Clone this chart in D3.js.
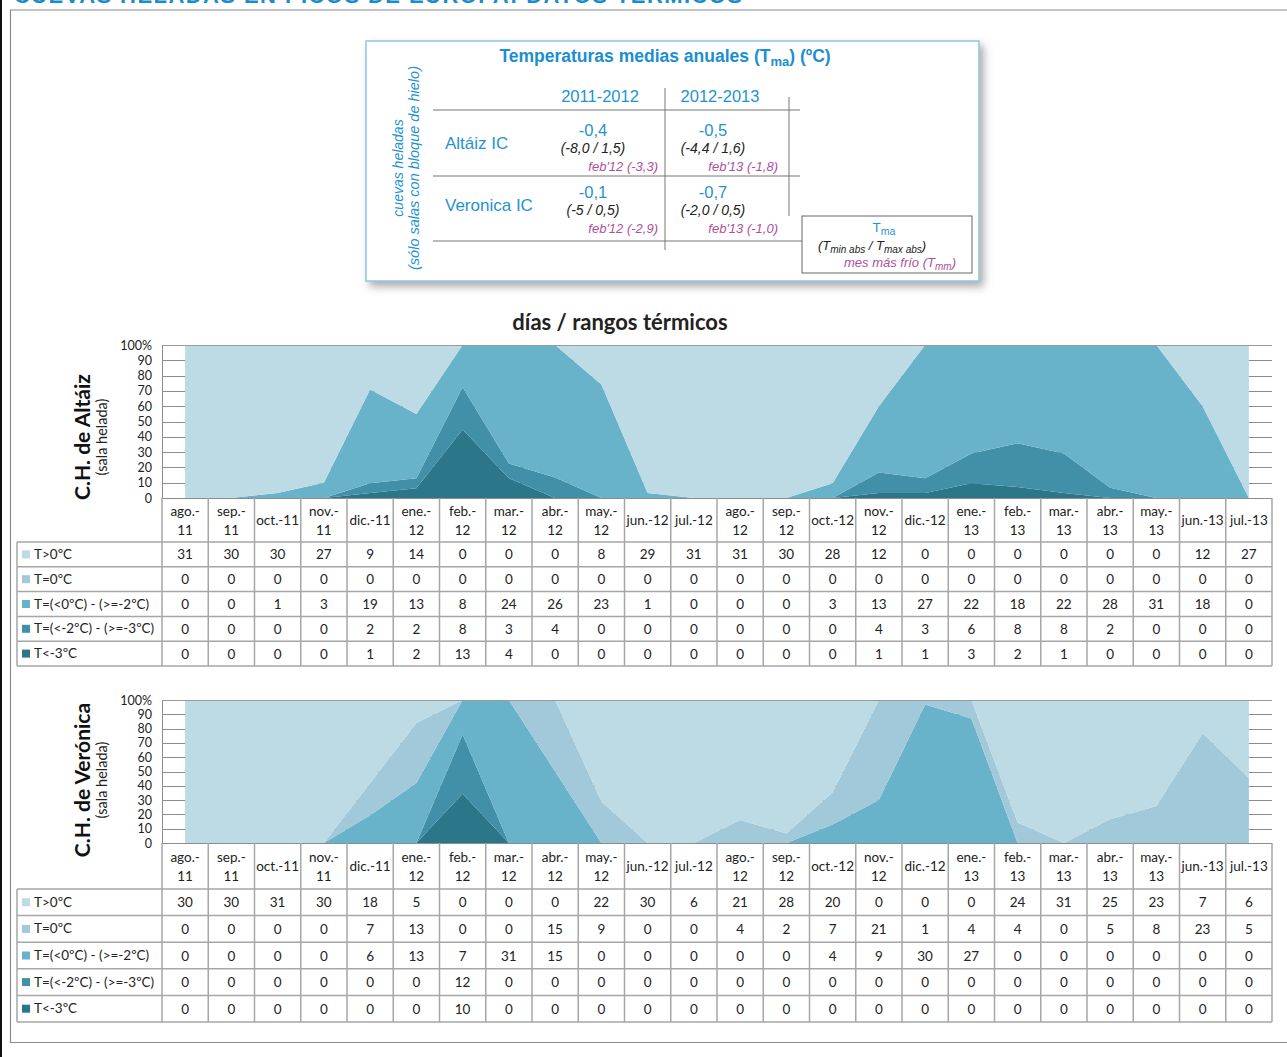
<!DOCTYPE html>
<html>
<head>
<meta charset="utf-8">
<script src="https://cdn.jsdelivr.net/npm/d3@7/dist/d3.min.js"></script>
<style>
  body{margin:0;background:#fff;}
  svg{display:block;font-family:Lato,"Open Sans",sans-serif;}
  .box text{font-family:"Liberation Sans",Arial,sans-serif;}
</style>
</head>
<body>
<div id="chart"></div>
<script>
// --- datos ---
var meses = ["ago.-\n11","sep.-\n11","oct.-11","nov.-\n11","dic.-11","ene.-\n12","feb.-\n12","mar.-\n12","abr.-\n12","may.-\n12","jun.-12","jul.-12",
             "ago.-\n12","sep.-\n12","oct.-12","nov.-\n12","dic.-12","ene.-\n13","feb.-\n13","mar.-\n13","abr.-\n13","may.-\n13","jun.-13","jul.-13"]
var rangos = ["T>0ºC","T=0ºC","T=(<0ºC) - (>=-2ºC)","T=(<-2ºC) - (>=-3ºC)","T<-3ºC"]
var colores = ["#bddbe5","#a1c9da","#69b3ca","#4190a8","#2c768a"]
var ticksY = ["0","10","20","30","40","50","60","70","80","90","100%"]

var altaizMas0   = [31,30,30,27,9,14,0,0,0,8,29,31,31,30,28,12,0,0,0,0,0,0,12,27]
var altaizIgual0 = [0,0,0,0,0,0,0,0,0,0,0,0,0,0,0,0,0,0,0,0,0,0,0,0]
var altaizMenos2 = [0,0,1,3,19,13,8,24,26,23,1,0,0,0,3,13,27,22,18,22,28,31,18,0]
var altaizMenos3 = [0,0,0,0,2,2,8,3,4,0,0,0,0,0,0,4,3,6,8,8,2,0,0,0]
var altaizBajo3  = [0,0,0,0,1,2,13,4,0,0,0,0,0,0,0,1,1,3,2,1,0,0,0,0]

var veroMas0   = [30,30,31,30,18,5,0,0,0,22,30,6,21,28,20,0,0,0,24,31,25,23,7,6]
var veroIgual0 = [0,0,0,0,7,13,0,0,15,9,0,0,4,2,7,21,1,4,4,0,5,8,23,5]
var veroMenos2 = [0,0,0,0,6,13,7,31,15,0,0,0,0,0,4,9,30,27,0,0,0,0,0,0]
var veroMenos3 = [0,0,0,0,0,0,12,0,0,0,0,0,0,0,0,0,0,0,0,0,0,0,0,0]
var veroBajo3  = [0,0,0,0,0,0,10,0,0,0,0,0,0,0,0,0,0,0,0,0,0,0,0,0]

var cuevas = ["Altáiz IC","Veronica IC"]
var periodos = ["2011-2012","2012-2013"]
var tmaVals = [["-0,4","-0,5"],["-0,1","-0,7"]]
var extremos = [["(-8,0 / 1,5)","(-4,4 / 1,6)"],["(-5 / 0,5)","(-2,0 / 0,5)"]]
var mesFrio = [["feb'12 (-3,3)","feb'13 (-1,8)"],["feb'12 (-2,9)","feb'13 (-1,0)"]]

var azul = "#1f93d2"
var morado = "#b0509c"

var svg = d3.select("#chart").append("svg").attr("width",1287).attr("height",1057)

var defs = svg.append("defs")
defs.append("filter").attr("id","sombra").attr("x","-5%").attr("y","-5%").attr("width","115%").attr("height","120%")
  .append("feDropShadow").attr("dx",4).attr("dy",5).attr("stdDeviation",4)
  .attr("flood-color","#666").attr("flood-opacity",0.55)

// marco y titulo (cortado arriba como en el original)
svg.append("rect").attr("x",0).attr("y",0).attr("width",2).attr("height",1057).attr("fill","#111")
svg.append("path").attr("d","M1300,10 H10.5 V1042.5 H1300").attr("fill","none").attr("stroke","#8a8a8a").attr("stroke-width",1.2)
svg.append("text").text("CUEVAS HELADAS EN PICOS DE EUROPA: DATOS TÉRMICOS")
  .attr("x",14).attr("y",3).attr("font-family","Liberation Sans, Arial").attr("font-weight","bold")
  .attr("font-size",22).attr("fill","#1a8ccc").attr("textLength",728)

// --- caja de temperaturas ---
var box = svg.append("g").attr("class","box")
box.append("rect").attr("x",366).attr("y",41).attr("width",613).attr("height",240)
  .attr("fill","white").attr("stroke","#8cc6e4").attr("stroke-width",1.5).attr("filter","url(#sombra)")

var bt = box.append("text").attr("x",665).attr("y",62).attr("text-anchor","middle")
  .attr("font-weight","bold").attr("font-size",17.5).attr("fill","#1a8fd0")
bt.append("tspan").text("Temperaturas medias anuales (T")
bt.append("tspan").text("ma").attr("font-size",13).attr("dy",4)
bt.append("tspan").text(") (ºC)").attr("dy",-4)

box.append("text").text("cuevas heladas").attr("transform","translate(403,168) rotate(-90)")
  .attr("text-anchor","middle").attr("font-style","italic").attr("font-size",14).attr("fill",azul)
box.append("text").text("(sólo salas con bloque de hielo)").attr("transform","translate(419,168) rotate(-90)")
  .attr("text-anchor","middle").attr("font-style","italic").attr("font-size",14.5).attr("fill",azul)

var lineasH = [110,176,241]
lineasH.forEach(function(y){
  box.append("line").attr("x1",433).attr("x2",y==241?802:800).attr("y1",y).attr("y2",y).attr("stroke","#777").attr("stroke-width",1)
})
box.append("line").attr("x1",665).attr("x2",665).attr("y1",88).attr("y2",250).attr("stroke","#777")
box.append("line").attr("x1",789).attr("x2",789).attr("y1",97).attr("y2",216).attr("stroke","#777")

var colX = [600,720]
periodos.forEach(function(p,j){
  box.append("text").text(p).attr("x",colX[j]).attr("y",102).attr("text-anchor","middle").attr("font-size",16.5).attr("fill",azul)
})
var filaY = [128,190]
cuevas.forEach(function(c,i){
  box.append("text").text(c).attr("x",445).attr("y",filaY[i]+21).attr("font-size",17).attr("fill",azul)
  for(var j=0;j<2;j++){
    var cx = colX[j]-7
    box.append("text").text(tmaVals[i][j]).attr("x",cx).attr("y",filaY[i]+8).attr("text-anchor","middle").attr("font-size",16.5).attr("fill",azul)
    box.append("text").text(extremos[i][j]).attr("x",cx).attr("y",filaY[i]+25).attr("text-anchor","middle").attr("font-style","italic").attr("font-size",14).attr("fill","#222")
    box.append("text").text(mesFrio[i][j]).attr("x",colX[j]+58).attr("y",filaY[i]+43).attr("text-anchor","end").attr("font-style","italic").attr("font-size",13).attr("fill",morado)
  }
})

box.append("rect").attr("x",802).attr("y",216).attr("width",170).attr("height",57).attr("fill","white").attr("stroke","#666").attr("stroke-width",1)
var lt = box.append("text").attr("x",884).attr("y",232).attr("text-anchor","middle").attr("font-size",13.5).attr("fill",azul)
lt.append("tspan").text("T")
lt.append("tspan").text("ma").attr("font-size",10.5).attr("dy",3)
var lt2 = box.append("text").attr("x",872).attr("y",250).attr("text-anchor","middle").attr("font-style","italic").attr("font-size",13).attr("fill","#222")
lt2.append("tspan").text("(T")
lt2.append("tspan").text("min abs").attr("font-size",10).attr("dy",3)
lt2.append("tspan").text(" / T").attr("dy",-3)
lt2.append("tspan").text("max abs").attr("font-size",10).attr("dy",3)
lt2.append("tspan").text(")").attr("dy",-3)
var lt3 = box.append("text").attr("x",956).attr("y",267).attr("text-anchor","end").attr("font-style","italic").attr("font-size",13).attr("fill",morado)
lt3.append("tspan").text("mes más frío (T")
lt3.append("tspan").text("mm").attr("font-size",10).attr("dy",3)
lt3.append("tspan").text(")").attr("dy",-3)

svg.append("text").text("días / rangos térmicos").attr("x",620).attr("y",330).attr("text-anchor","middle")
  .attr("font-family","Lato, sans-serif").attr("font-weight","bold").attr("font-size",22).attr("fill","#222")

// --- paneles ---
drawPanel({y0:498, y1:345, hh:44, rh:24.8, titulo:"C.H. de Altáiz", ty:437,
           series:[altaizMas0,altaizIgual0,altaizMenos2,altaizMenos3,altaizBajo3]})
drawPanel({y0:843, y1:700, hh:46, rh:26.6, titulo:"C.H. de Verónica", ty:780,
           series:[veroMas0,veroIgual0,veroMenos2,veroMenos3,veroBajo3]})

function drawPanel(cfg){
  var g = svg.append("g")
  var x = d3.scaleBand().domain(d3.range(meses.length)).range([162,1272])
  var y = d3.scaleLinear().domain([0,1]).range([cfg.y0,cfg.y1])
  var xc = function(i){return x(i)+x.bandwidth()/2}

  // lineas de division
  g.append("g").selectAll("line").data(y.ticks(10)).join("line")
    .attr("x1",162).attr("x2",1272).attr("y1",function(d){return Math.round(y(d))+0.5}).attr("y2",function(d){return Math.round(y(d))+0.5})
    .attr("stroke","#8c8c8c").attr("stroke-width",1)

  var filas = meses.map(function(m,i){
    var o = {}
    rangos.forEach(function(r,k){o[r]=cfg.series[k][i]})
    return o
  })
  var stack = d3.stack().keys(rangos.slice().reverse()).offset(d3.stackOffsetExpand)
  var capas = stack(filas)
  var area = d3.area().x(function(d,i){return xc(i)}).y0(function(d){return y(d[0])}).y1(function(d){return y(d[1])})
  g.append("g").selectAll("path").data(capas).join("path")
    .attr("d",area).attr("fill",function(d){return colores[rangos.indexOf(d.key)]})

  g.append("line").attr("x1",162).attr("x2",1272).attr("y1",Math.round(y(1))+0.5).attr("y2",Math.round(y(1))+0.5).attr("stroke","#9a9a9a")
  g.append("line").attr("x1",162.5).attr("x2",162.5).attr("y1",y(1)).attr("y2",y(0)).attr("stroke","#8c8c8c")

  var ya = g.append("g").attr("transform","translate(162,0)")
    .call(d3.axisLeft(y).ticks(10).tickSize(0).tickPadding(10).tickFormat(function(d,i){return ticksY[i]}))
  ya.select(".domain").remove()
  ya.selectAll("text").attr("font-family","Lato, sans-serif").attr("font-size",12.5).attr("fill","#222")

  // titulo del eje
  g.append("text").text(cfg.titulo).attr("transform","translate(90,"+cfg.ty+") rotate(-90)")
    .attr("text-anchor","middle").attr("font-weight","bold").attr("font-size",21).attr("fill","#111")
  g.append("text").text("(sala helada)").attr("transform","translate(107,"+cfg.ty+") rotate(-90)")
    .attr("text-anchor","middle").attr("font-size",14.5).attr("fill","#222")

  // tabla de datos
  var tTop = cfg.y0 + cfg.hh
  var tBot = tTop + cfg.rh*rangos.length
  var borde = "#a6a6a6"
  d3.range(meses.length+1).forEach(function(i){
    var xx = i<meses.length ? x(i) : 1272
    g.append("line").attr("x1",xx).attr("x2",xx).attr("y1",cfg.y0).attr("y2",tBot).attr("stroke",borde).attr("stroke-width",1.5)
  })
  g.append("line").attr("x1",17).attr("x2",17).attr("y1",tTop).attr("y2",tBot).attr("stroke",borde).attr("stroke-width",1.5)
  d3.range(rangos.length+1).forEach(function(k){
    var yy = tTop + k*cfg.rh
    g.append("line").attr("x1",17).attr("x2",1272).attr("y1",yy).attr("y2",yy).attr("stroke",borde).attr("stroke-width",1.5)
  })

  meses.forEach(function(m,i){
    var partes = m.split("\n")
    var t = g.append("text").attr("text-anchor","middle").attr("font-size",13.5).attr("fill","#222")
    if(partes.length==2){
      t.append("tspan").text(partes[0]).attr("x",xc(i)).attr("y",cfg.y0+cfg.hh/2-4)
      t.append("tspan").text(partes[1]).attr("x",xc(i)).attr("y",cfg.y0+cfg.hh/2+15)
    } else {
      t.text(m).attr("x",xc(i)).attr("y",cfg.y0+cfg.hh/2+5)
    }
  })

  rangos.forEach(function(r,k){
    var cy = tTop + k*cfg.rh + cfg.rh/2
    g.append("rect").attr("x",22).attr("y",cy-4).attr("width",8).attr("height",8).attr("fill",colores[k])
    g.append("text").text(r).attr("x",34).attr("y",cy+4.5).attr("font-size",13.5).attr("fill","#222")
    cfg.series[k].forEach(function(v,i){
      g.append("text").text(v).attr("x",xc(i)).attr("y",cy+5).attr("text-anchor","middle").attr("font-size",13.5).attr("fill","#222")
    })
  })
}
</script>
</body>
</html>
